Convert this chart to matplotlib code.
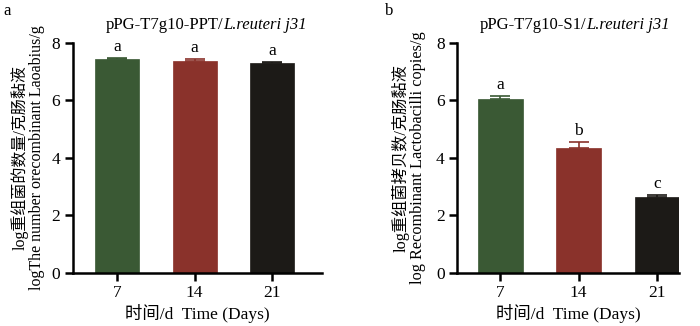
import matplotlib
matplotlib.use('Agg')
import matplotlib.pyplot as plt
import numpy as np

plt.rcParams['font.family'] = ['Liberation Serif', 'Noto Sans CJK SC']

# data
days = ['7', '14', '21']
colors = ['#3a5934', '#8a322b', '#1c1a17']

ppt_mean = [7.44, 7.37, 7.30]
ppt_err = [0.03, 0.07, 0.05]
ppt_sig = ['a', 'a', 'a']

s1_mean = [6.06, 4.35, 2.64]
s1_err = [0.10, 0.21, 0.08]
s1_sig = ['a', 'b', 'c']

xlabel = '时间/d  Time (Days)'
ylabel_a = 'log重组菌的数量/克肠黏液\nlogThe number orecombinant Laoabius/g'
ylabel_b = 'log重组菌拷贝数/克肠黏液\nlog Recombinant Lactobacilli copies/g'
title_a = ('pPG-T7g10-PPT/', 'L.reuteri j31')
title_b = ('pPG-T7g10-S1/', 'L.reuteri j31')

fig = plt.figure(figsize=(7, 3.26), dpi=100, facecolor='white')
ax1 = fig.add_axes([0.104, 0.1626, 0.356, 0.7055])
ax2 = fig.add_axes([0.653, 0.1626, 0.317, 0.7055])


def draw_panel(ax, means, errs, sigs, xlim, ylabel, label_x, ysize):
    x = np.arange(len(days))
    for i in range(len(days)):
        ax.bar(x[i], means[i], width=0.57, color=colors[i], edgecolor=colors[i],
               linewidth=0.5, zorder=2)
        ax.errorbar(x[i], means[i], yerr=[[0], [errs[i]]], fmt='none',
                    ecolor=colors[i], elinewidth=1.2, capsize=7, capthick=1.2, zorder=3)
        ax.text(x[i], means[i] + errs[i] + 0.1, sigs[i], ha='center', va='bottom',
                fontsize=12.5)
    ax.set_xlim(*xlim)
    ax.set_ylim(0, 8)
    ax.set_yticks([0, 2, 4, 6, 8])
    ax.set_xticks(x)
    ax.set_xticklabels(days)
    for s in ['top', 'right']:
        ax.spines[s].set_visible(False)
    for s in ['left', 'bottom']:
        ax.spines[s].set_linewidth(1.8)
    ax.tick_params(axis='both', direction='out', length=6, width=1.8, labelsize=12.5,
                   pad=3)
    ax.set_xlabel(xlabel, fontsize=12.5, labelpad=2)
    ax.set_ylabel(ylabel, fontsize=ysize, linespacing=1.05)
    ax.yaxis.set_label_coords(label_x, 0.5)


def draw_title(xsplit, parts):
    fig.text(xsplit, 0.911, parts[0], ha='right', va='baseline', fontsize=12)
    fig.text(xsplit, 0.911, parts[1], ha='left', va='baseline', fontsize=12,
             style='italic')


draw_panel(ax1, ppt_mean, ppt_err, ppt_sig, (-0.57, 2.64), ylabel_a, -0.11, 11.5)
draw_panel(ax2, s1_mean, s1_err, s1_sig, (-0.55, 2.28), ylabel_b, -0.14, 11.7)

draw_title(0.319, title_a)
draw_title(0.838, title_b)
fig.text(0.005, 0.954, 'a', fontsize=12, va='baseline')
fig.text(0.55, 0.954, 'b', fontsize=12, va='baseline')

plt.savefig('out.png', dpi=100, facecolor='white')
